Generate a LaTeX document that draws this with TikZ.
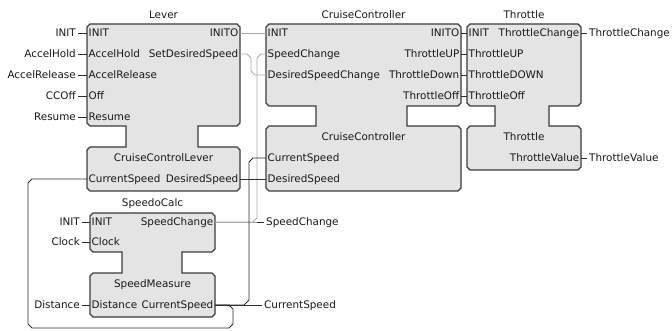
\documentclass[tikz,border=0pt]{standalone}
\usepackage{fontspec}
\newfontfamily\uifont{DejaVu Sans}
\definecolor{blockfill}{HTML}{E4E4E4}
\definecolor{blockline}{HTML}{3C3C3C}
\definecolor{evtline}{HTML}{A8A8A8}
\definecolor{datline}{HTML}{2E2E2E}
% Outline of a function block: upper part, neck and lower part, with chamfered corners
% #1,#2 left/right x; #3 top; #4 bottom of upper part; #5,#6 neck x; #7 top of lower part; #8 bottom
\newcommand{\fbshape}[8]{%
  \filldraw[blockbox] (#1+3,#3) -- (#2-3,#3) -- (#2,#3+3) -- (#2,#4-3) -- (#2-3,#4)
    -- (#6,#4) -- (#6,#7) -- (#2-3,#7) -- (#2,#7+3) -- (#2,#8-3) -- (#2-3,#8)
    -- (#1+3,#8) -- (#1,#8-3) -- (#1,#7+3) -- (#1+3,#7) -- (#5,#7) -- (#5,#4)
    -- (#1+3,#4) -- (#1,#4-3) -- (#1,#3+3) -- cycle;}
\begin{document}
\begin{tikzpicture}[x=1pt,y=-1pt,
  blockbox/.style={fill=blockfill,draw=blockline,line width=1.1pt,line join=miter},
  lbl/.style={inner sep=0pt,text height=7.6pt,text depth=0pt,
    font=\uifont\fontsize{10.4}{12}\selectfont,text=black!90},
  pl/.style={lbl,anchor=west},
  pr/.style={lbl,anchor=east},
  ttl/.style={lbl,anchor=center},
  evt/.style={draw=evtline,line width=0.8pt},
  dat/.style={draw=datline,line width=0.9pt},
  ext/.style={draw=datline,line width=0.8pt}]
\useasboundingbox[fill=white] (0,0) rectangle (672,331);

% ---------- block outlines ----------
\fbshape{87}{240}{24}{126}{126}{198}{147}{191}   % Lever
\fbshape{266}{461}{24}{106}{316}{407}{126}{191}  % CruiseController
\fbshape{467}{581}{24}{106}{495}{549}{126}{170}  % Throttle
\fbshape{90}{215}{213}{252}{122}{182}{273}{317}  % SpeedoCalc

% ---------- Lever ----------
\node[ttl] (levT) at (163.5,15) {Lever};
\node[pl] (levInit) at (88.5,33) {INIT};
\node[pl] (levAh) at (88.5,54) {AccelHold};
\node[pl] (levAr) at (88.5,75) {AccelRelease};
\node[pl] (levOff) at (88.5,96) {Off};
\node[pl] (levRes) at (88.5,117) {Resume};
\node[pr] (levInitO) at (238.5,33) {INITO};
\node[pr] (levSds) at (238.5,54) {SetDesiredSpeed};
\node[ttl] (levT2) at (163.5,158) {CruiseControlLever};
\node[pl] (levCur) at (88.5,179) {CurrentSpeed};
\node[pr] (levDes) at (238.5,179) {DesiredSpeed};
\coordinate (levInitP) at (87,33);
\coordinate (levAhP) at (87,54);
\coordinate (levArP) at (87,75);
\coordinate (levOffP) at (87,96);
\coordinate (levResP) at (87,117);
\coordinate (levInitOP) at (240,33);
\coordinate (levSdsP) at (240,54);
\coordinate (levCurP) at (87,179);
\coordinate (levDesP) at (240,179);

% ---------- CruiseController ----------
\node[ttl] (ccT) at (363.5,15) {CruiseController};
\node[pl] (ccInit) at (267.5,33) {INIT};
\node[pl] (ccSpc) at (267.5,54) {SpeedChange};
\node[pl] (ccDsc) at (267.5,75) {DesiredSpeedChange};
\node[pr] (ccInitO) at (459.5,33) {INITO};
\node[pr] (ccUp) at (459.5,54) {ThrottleUP};
\node[pr] (ccDown) at (459.5,75) {ThrottleDown};
\node[pr] (ccOff) at (459.5,96) {ThrottleOff};
\node[ttl] (ccT2) at (363.5,137) {CruiseController};
\node[pl] (ccCur) at (267.5,158) {CurrentSpeed};
\node[pl] (ccDes) at (267.5,179) {DesiredSpeed};
\coordinate (ccInitP) at (266,33);
\coordinate (ccSpcP) at (266,54);
\coordinate (ccDscP) at (266,75);
\coordinate (ccInitOP) at (461,33);
\coordinate (ccUpP) at (461,54);
\coordinate (ccDownP) at (461,75);
\coordinate (ccOffP) at (461,96);
\coordinate (ccCurP) at (266,158);
\coordinate (ccDesP) at (266,179);

% ---------- Throttle ----------
\node[ttl] (thT) at (524,15) {Throttle};
\node[pl] (thInit) at (468.5,33) {INIT};
\node[pr] (thChg) at (579.5,33) {ThrottleChange};
\node[pl] (thUp) at (468.5,54) {ThrottleUP};
\node[pl] (thDown) at (468.5,75) {ThrottleDOWN};
\node[pl] (thOff) at (468.5,96) {ThrottleOff};
\node[ttl] (thT2) at (524,137) {Throttle};
\node[pr] (thVal) at (579.5,158) {ThrottleValue};
\coordinate (thInitP) at (467,33);
\coordinate (thUpP) at (467,54);
\coordinate (thDownP) at (467,75);
\coordinate (thOffP) at (467,96);
\coordinate (thChgP) at (581,33);
\coordinate (thValP) at (581,158);

% ---------- SpeedoCalc ----------
\node[ttl] (scT) at (152.5,203) {SpeedoCalc};
\node[pl] (scInit) at (91.5,222) {INIT};
\node[pl] (scClk) at (91.5,242) {Clock};
\node[pr] (scSpc) at (213.5,222) {SpeedChange};
\node[ttl] (scT2) at (152.5,284) {SpeedMeasure};
\node[pl] (scDist) at (91.5,305) {Distance};
\node[pr] (scCur) at (213.5,305) {CurrentSpeed};
\coordinate (scInitP) at (90,222);
\coordinate (scClkP) at (90,242);
\coordinate (scDistP) at (90,305);
\coordinate (scSpcP) at (215,222);
\coordinate (scCurP) at (215,305);

% ---------- external inputs and outputs ----------
\node[pr] (xInit) at (76,33) {INIT};
\node[pr] (xAh) at (76,54) {AccelHold};
\node[pr] (xAr) at (76,75) {AccelRelease};
\node[pr] (xOff) at (76,96) {CCOff};
\node[pr] (xRes) at (76,117) {Resume};
\node[pr] (xInit2) at (80,222) {INIT};
\node[pr] (xClk) at (80,242) {Clock};
\node[pr] (xDist) at (80,305) {Distance};
\node[pl] (xChg) at (589,33) {ThrottleChange};
\node[pl] (xVal) at (589,158) {ThrottleValue};
\node[pl] (xSpc) at (266,222) {SpeedChange};
\node[pl] (xCur) at (264,305) {CurrentSpeed};

\foreach \a/\b in {xInit/levInitP,xAh/levAhP,xAr/levArP,xOff/levOffP,xRes/levResP,
                   xInit2/scInitP,xClk/scClkP,xDist/scDistP}
  \draw[ext] ([xshift=2pt]\a.east) -- (\b);
\draw[ext] (thChgP) -- ([xshift=-2pt]xChg.west);
\draw[ext] (thValP) -- ([xshift=-2pt]xVal.west);

% ---------- connections ----------
\draw[evt] (levInitOP) -- (ccInitP);
\draw[evt] (levSdsP) -- ++(7,0) -- ++(4,4) -- ++(0,13) -- ++(4,4) -- (ccDscP);
\draw[evt] (scSpcP) -- ++(38,0) -- ++(4,-4) -- ++(0,-160) -- ++(4,-4) -- (ccSpcP);
\draw[evt] (scSpcP) -- (257,222);
\draw[ext] (257,222) -- ([xshift=-2pt]xSpc.west);
\draw[dat] (scCurP) -- ++(29,0) -- ++(5,-5) -- ++(0,-138) -- ++(4,-4) -- (ccCurP);
\draw[dat] (scCurP) -- ++(14,0) -- ++(4,4) -- ++(0,15) -- ++(-4,4) -- ++(-197,0)
  -- ++(-4,-4) -- ++(0,-141) -- ++(4,-4) -- (levCurP);
\draw[dat] (scCurP) -- ([xshift=-2pt]xCur.west);
\draw[dat] (levDesP) -- (ccDesP);
\draw[dat] (ccInitOP) -- (thInitP);
\draw[dat] (ccUpP) -- (thUpP);
\draw[dat] (ccDownP) -- (thDownP);
\draw[dat] (ccOffP) -- (thOffP);
\end{tikzpicture}
\end{document}
